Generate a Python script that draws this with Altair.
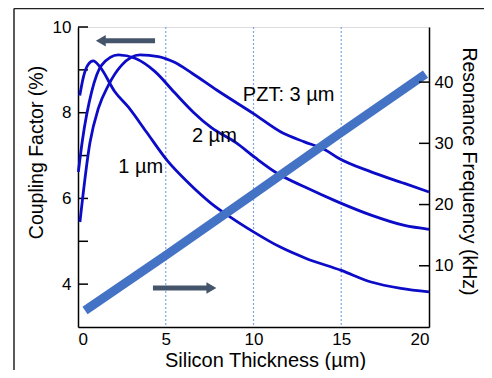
import altair as alt
import pandas as pd

FONT = "Liberation Sans"

# ---------------- data ----------------
x_1um = [0.1, 0.3, 0.57, 0.87, 1.25, 2.1, 2.85, 3.9, 5.09, 6.27, 7.6, 8.66, 10.0, 11.5, 13.0, 15.0, 16.7, 18.4, 20.0]
k_1um = [8.40, 8.82, 9.12, 9.21, 9.07, 8.49, 8.14, 7.55, 6.88, 6.37, 5.88, 5.57, 5.22, 4.87, 4.60, 4.32, 4.05, 3.90, 3.82]

x_2um = [0.02, 0.25, 0.78, 1.35, 2.3, 3.25, 4.39, 5.5, 6.6, 7.6, 9.0, 10.1, 11.3, 12.9, 14.8, 16.7, 18.6, 20.0]
k_2um = [6.62, 7.35, 8.49, 9.11, 9.35, 9.27, 8.96, 8.47, 8.00, 7.65, 7.30, 6.95, 6.60, 6.27, 5.92, 5.61, 5.37, 5.28]

x_3um = [0.11, 0.68, 1.16, 1.73, 2.49, 3.53, 4.58, 5.53, 6.5, 7.9, 10.0, 11.7, 12.9, 14.1, 14.8, 16.7, 18.6, 20.0]
k_3um = [5.45, 7.30, 8.10, 8.64, 9.11, 9.35, 9.31, 9.17, 8.92, 8.53, 7.98, 7.52, 7.32, 7.13, 6.95, 6.62, 6.35, 6.15]

x_freq = [0.4, 5.0, 10.0, 15.0, 19.8]
f_freq = [2.7, 11.7, 21.7, 31.8, 41.3]

label_text = ["PZT: 3 µm", "2 µm", "1 µm"]
label_x = [12.0, 7.77, 3.57]
label_y = [8.41, 7.45, 6.74]

arrow_x_start = [4.39, 4.27]
arrow_x_end = [1.4, 7.5]
arrow_head_x = [1.3, 7.6]
arrow_y = [9.68, 3.91]
arrow_shape = ["triangle-left", "triangle-right"]

x_ticks = [0, 5, 10, 15, 20]
grid_x = [5, 10, 15]
left_labels = [4, 6, 8, 10]
left_ticks = [4, 5, 6, 7, 8, 9, 10]
right_ticks = [10, 20, 30, 40]

W, H = 351, 300

# ---------------- tables ----------------
curves = pd.concat([
    pd.DataFrame({"x": x_1um, "y": k_1um, "s": "1"}),
    pd.DataFrame({"x": x_2um, "y": k_2um, "s": "2"}),
    pd.DataFrame({"x": x_3um, "y": k_3um, "s": "3"}),
])
freq = pd.DataFrame({"x": x_freq, "y": f_freq})
labels = pd.DataFrame({"x": label_x, "y": label_y, "t": label_text})
arrows = pd.DataFrame({"x": arrow_x_start, "x2": arrow_x_end, "y": arrow_y})
heads = pd.DataFrame({"x": arrow_head_x, "y": arrow_y, "shape": arrow_shape})
grid = pd.DataFrame({"x": grid_x})
lt = pd.DataFrame({"y": left_ticks})
rt = pd.DataFrame({"y": right_ticks})
dummy = pd.DataFrame({"a": [0]})

# ---------------- encodings ----------------
common = dict(ticks=False, tickSize=0, labelFontSize=17, domainColor="black", domainWidth=1.5,
              grid=False, labelColor="black", titleColor="black", titleFontWeight="normal",
              labelFont=FONT, titleFont=FONT)

x_axis = alt.Axis(values=x_ticks, title="Silicon Thickness (µm)", labelPadding=4,
                  titleFontSize=20, titlePadding=3, titleX=187, **common)
X = alt.X("x:Q", scale=alt.Scale(domain=[0, 20], nice=False), axis=x_axis)

left_axis = alt.Axis(values=left_labels, title="Coupling Factor (%)", labelPadding=7,
                     titleFontSize=19.5, titlePadding=6, titleY=125, **common)
YL = alt.Y("y:Q", scale=alt.Scale(domain=[3, 10], nice=False, zero=False), axis=left_axis)

right_axis = alt.Axis(values=right_ticks, title="Resonance Frequency (kHz)", orient="right",
                      labelPadding=5, titleFontSize=19.5, titlePadding=6, titleY=144, **common)
YR = alt.Y("y:Q", scale=alt.Scale(domain=[0, 49], nice=False, zero=False), axis=right_axis)

# ---------------- left group ----------------
grid_layer = alt.Chart(grid).mark_rule(color="#7fa6e4", strokeWidth=1.2, strokeDash=[2, 2]).encode(
    x=X, y=alt.value(0), y2=alt.value(H))

left_tick_layer = alt.Chart(lt).mark_rule(color="black", strokeWidth=1.5).encode(
    y=YL, x=alt.value(0), x2=alt.value(10))

curve_layer = alt.Chart(curves).mark_line(color="#0c0cc8", strokeWidth=2.8, interpolate="monotone").encode(
    x=X, y=YL, detail="s:N")

label_layer = alt.Chart(labels).mark_text(font=FONT, fontSize=20, color="black").encode(
    x=X, y=YL, text="t:N")

shaft_layer = alt.Chart(arrows).mark_rule(color="#44546a", strokeWidth=5).encode(
    x=X, x2="x2:Q", y=YL)

head_layer = alt.Chart(heads).mark_point(filled=True, opacity=1, color="#44546a", size=130).encode(
    x=X, y=YL, shape=alt.Shape("shape:N", scale=None))

frame_v = alt.Chart(dummy).mark_rule(color="#222222", strokeWidth=1.5).encode(
    x=alt.value(-64), y=alt.value(-18.5), y2=alt.value(360))
frame_h = alt.Chart(dummy).mark_rule(color="#222222", strokeWidth=1.5).encode(
    x=alt.value(-64), x2=alt.value(420), y=alt.value(-18.5))

left_group = alt.layer(grid_layer, left_tick_layer, curve_layer, label_layer,
                       shaft_layer, head_layer, frame_v, frame_h)

# ---------------- right group ----------------
band_layer = alt.Chart(freq).mark_line(color="#4472c4", strokeWidth=9, strokeCap="butt").encode(
    x=X, y=YR)
right_tick_layer = alt.Chart(rt).mark_rule(color="black", strokeWidth=1.5).encode(
    y=YR, x=alt.value(W - 10), x2=alt.value(W))

right_group = alt.layer(band_layer, right_tick_layer)

chart = alt.layer(left_group, right_group).resolve_scale(y="independent").properties(
    width=W, height=H,
    autosize=alt.AutoSizeParams(type="none"),
    padding={"left": 70, "top": 19, "right": 55, "bottom": 43},
).configure_view(stroke="transparent").configure(background="white")

chart.save("out.html", embed_options={"renderer": "svg", "actions": False})
